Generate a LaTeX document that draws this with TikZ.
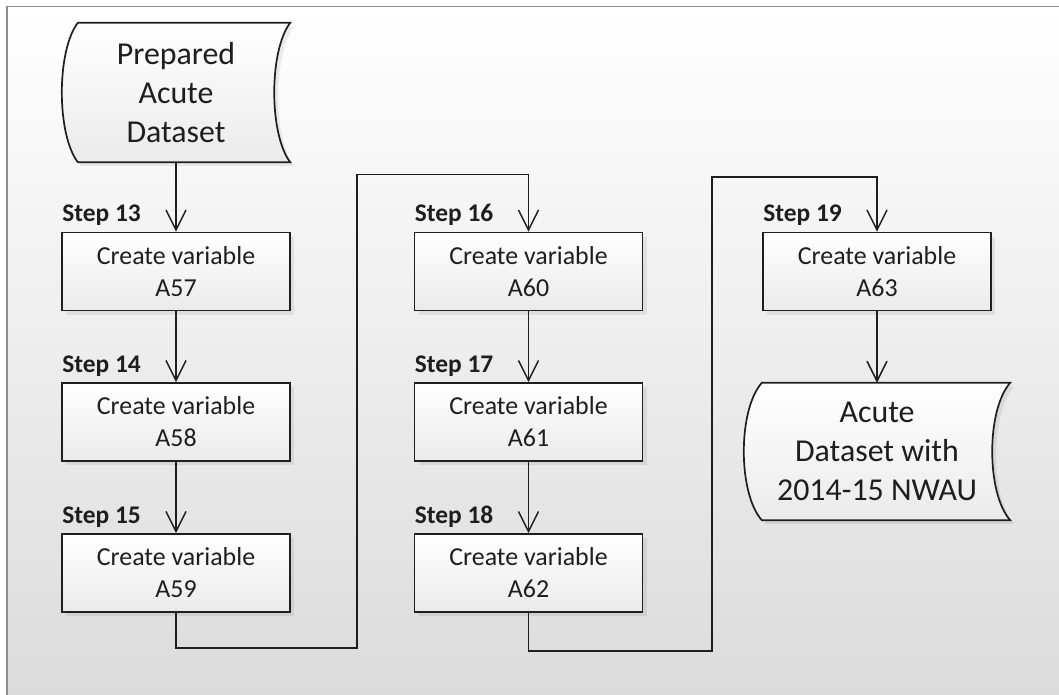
\documentclass[tikz,border=0pt]{standalone}
\usepackage{fontspec}
\setmainfont{Carlito}
\usetikzlibrary{arrows.meta,calc}
\definecolor{ink}{RGB}{30,30,30}
\definecolor{framegray}{RGB}{140,140,140}
\begin{document}
\begin{tikzpicture}[x=1bp,y=-1bp,
  shadowed/.style={preaction={fill=black, fill opacity=0.07, transform canvas={xshift=4bp,yshift=-4bp}}},
  box/.style={draw=ink, line width=1.7bp, minimum width=228bp, minimum height=78bp, inner sep=0pt,
    top color=white, bottom color=black!8, shadowed, align=center,
    font=\fontsize{26}{32}\selectfont, text=ink},
  steplbl/.style={anchor=base west, inner sep=0pt, font=\bfseries\fontsize{25.5}{28}\selectfont, text=ink},
  conn/.style={draw=ink, line width=1.5bp},
  arr/.style={conn, -{Straight Barb[length=20bp,width=20bp,line width=1.5bp]}},
  datalbl/.style={inner sep=0pt, align=center, font=\fontsize{32}{39}\selectfont, text=ink},
  dshape/.style={draw=ink, line width=1.7bp, top color=white, bottom color=black!8, shadowed},
]
\useasboundingbox (0,0) rectangle (1059,695);
% background and frame
\shade[top color=white, bottom color=black!14] (7,6.5) rectangle (1059,695);
\draw[framegray, line width=1.5bp] (1059,6.5) -- (7,6.5) -- (7,695);

% source data shape
\node[datalbl, minimum width=228bp, minimum height=139bp] (src) at (176,92.5) {};
\path[dshape] ([xshift=16bp]src.north west) -- (src.north east)
  .. controls ([xshift=-21.3bp,yshift=-28bp]src.north east) and ([xshift=-21.3bp,yshift=28bp]src.south east) .. (src.south east)
  -- ([xshift=16bp]src.south west)
  .. controls ([xshift=-5.3bp,yshift=28bp]src.south west) and ([xshift=-5.3bp,yshift=-28bp]src.north west) .. ([xshift=16bp]src.north west) -- cycle;
\node[datalbl] at (src.center) {Prepared\\Acute\\Dataset};

% output data shape
\node[datalbl, minimum width=266bp, minimum height=137bp] (out) at (877,451.5) {};
\path[dshape] ([xshift=18bp]out.north west) -- (out.north east)
  .. controls ([xshift=-24bp,yshift=-27bp]out.north east) and ([xshift=-24bp,yshift=27bp]out.south east) .. (out.south east)
  -- ([xshift=18bp]out.south west)
  .. controls ([xshift=-6bp,yshift=27bp]out.south west) and ([xshift=-6bp,yshift=-27bp]out.north west) .. ([xshift=18bp]out.north west) -- cycle;
\node[datalbl] at (out.center) {Acute\\Dataset with\\2014-15 NWAU};

% boxes
\node[box] (b13) at (176,271.5) {Create variable\\A57};
\node[box] (b14) at (176,422) {Create variable\\A58};
\node[box] (b15) at (176,573) {Create variable\\A59};
\node[box] (b16) at (528.5,271.5) {Create variable\\A60};
\node[box] (b17) at (528.5,422) {Create variable\\A61};
\node[box] (b18) at (528.5,573) {Create variable\\A62};
\node[box] (b19) at (877,271.5) {Create variable\\A63};

% step labels
\node[steplbl] (s13) at ($(b13.north west)+(1,-10)$) {Step 13};
\node[steplbl] (s14) at ($(b14.north west)+(1,-10)$) {Step 14};
\node[steplbl] (s15) at ($(b15.north west)+(1,-10)$) {Step 15};
\node[steplbl] (s16) at ($(b16.north west)+(1,-10)$) {Step 16};
\node[steplbl] (s17) at ($(b17.north west)+(1,-10)$) {Step 17};
\node[steplbl] (s18) at ($(b18.north west)+(1,-10)$) {Step 18};
\node[steplbl] (s19) at ($(b19.north west)+(1,-10)$) {Step 19};

% loop corner coordinates
\coordinate (l1a) at (357,648);
\coordinate (l1b) at (357,174.5);
\coordinate (l2a) at (712,651);
\coordinate (l2b) at (712,177);

% connectors
\draw[arr] (src.south) -- (b13.north);
\draw[arr] (b13.south) -- (b14.north);
\draw[arr] (b14.south) -- (b15.north);
\draw[arr] (b15.south) |- (l1a) -- (l1b) -| (b16.north);
\draw[arr] (b16.south) -- (b17.north);
\draw[arr] (b17.south) -- (b18.north);
\draw[arr] (b18.south) |- (l2a) -- (l2b) -| (b19.north);
\draw[arr] (b19.south) -- (out.north);
\end{tikzpicture}
\end{document}
